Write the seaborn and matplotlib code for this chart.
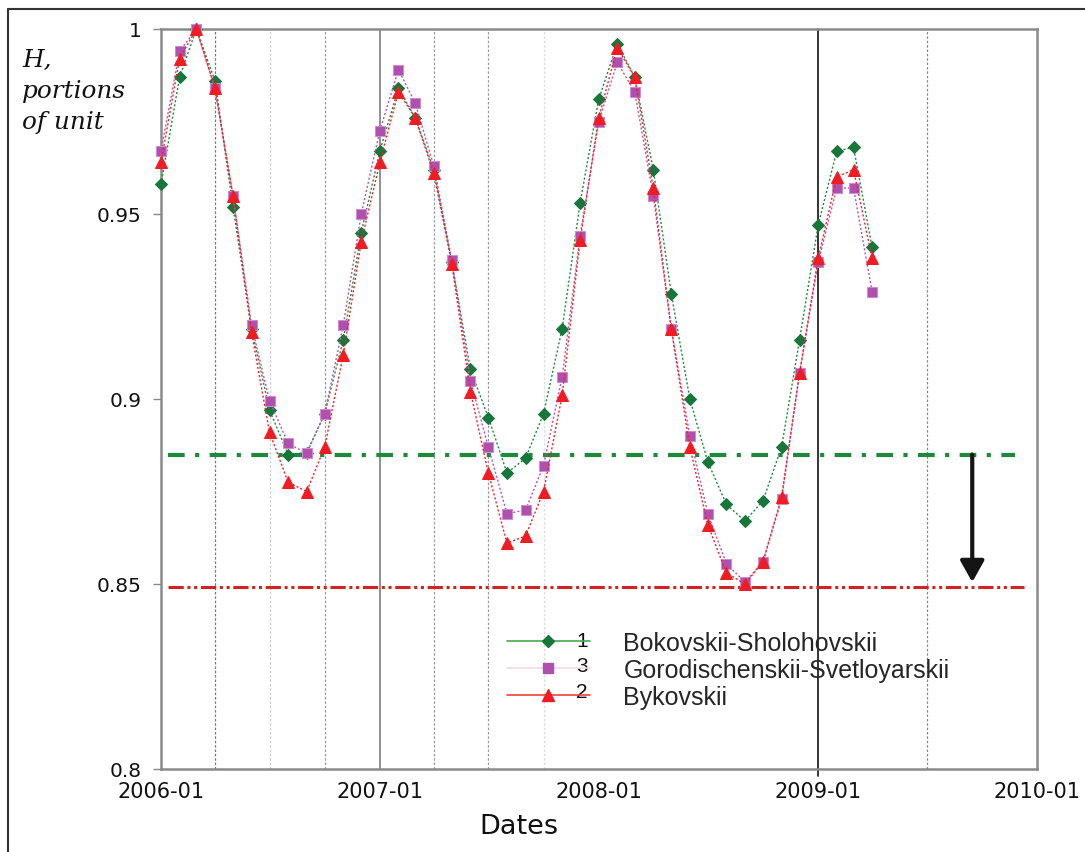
import numpy as np
import pandas as pd
import seaborn as sns
import matplotlib
matplotlib.use("Agg")
import matplotlib.pyplot as plt
import matplotlib.dates as mdates
from matplotlib.lines import Line2D

# monthly values, 2006-01 .. 2009-04
months = pd.date_range("2006-01-01", periods=40, freq="MS")

bokovskii = [0.958, 0.987, 1.000, 0.986, 0.952, 0.919, 0.897, 0.885, 0.8855, 0.896,
             0.916, 0.945, 0.967, 0.984, 0.976, 0.962, 0.937, 0.908, 0.895, 0.880,
             0.884, 0.896, 0.919, 0.953, 0.981, 0.996, 0.987, 0.962, 0.9285, 0.900,
             0.883, 0.8715, 0.867, 0.8725, 0.887, 0.916, 0.947, 0.967, 0.968, 0.941]
gorodischenskii = [0.967, 0.994, 1.000, 0.984, 0.955, 0.920, 0.8995, 0.888, 0.8853, 0.896,
                   0.920, 0.950, 0.9725, 0.989, 0.980, 0.963, 0.9375, 0.905, 0.887, 0.869,
                   0.870, 0.882, 0.906, 0.944, 0.975, 0.991, 0.983, 0.955, 0.919, 0.890,
                   0.869, 0.8555, 0.8505, 0.856, 0.873, 0.907, 0.937, 0.957, 0.957, 0.929]
bykovskii = [0.964, 0.992, 1.000, 0.984, 0.955, 0.918, 0.891, 0.8775, 0.875, 0.887,
             0.912, 0.9425, 0.964, 0.983, 0.976, 0.961, 0.9365, 0.902, 0.880, 0.861,
             0.863, 0.875, 0.901, 0.943, 0.976, 0.995, 0.987, 0.957, 0.919, 0.887,
             0.866, 0.853, 0.850, 0.856, 0.8735, 0.907, 0.938, 0.960, 0.962, 0.938]

names = ["Bokovskii-Sholohovskii", "Gorodischenskii-Svetloyarskii", "Bykovskii"]
numbers = ["1", "3", "2"]

level_green = 0.885
level_red = 0.8492
arrow_date = "2009-09-15"

df = pd.DataFrame({"date": months, names[0]: bokovskii,
                   names[1]: gorodischenskii, names[2]: bykovskii})

sns.set_style("white")
plt.rcParams["font.family"] = ["DejaVu Sans"]

fig = plt.figure(figsize=(10.85, 8.53), dpi=100)
ax = fig.add_axes([161 / 1085, 1 - 770 / 853, 876 / 1085, 740 / 853])

# background vertical lines
vlines = [("2006-04-01", "#777777", (0, (2, 1.5)), 0.9),
          ("2006-07-01", "#cccccc", (0, (2, 1.5)), 0.9),
          ("2006-10-01", "#999999", (0, (2, 1.5)), 0.9),
          ("2007-01-01", "#888888", "-", 1.3),
          ("2007-04-01", "#999999", (0, (2, 1.5)), 0.9),
          ("2007-07-01", "#999999", (0, (2, 1.5)), 0.9),
          ("2007-10-01", "#dddddd", (0, (2, 1.5)), 0.9),
          ("2009-07-01", "#888888", (0, (2, 1.5)), 0.9)]
for d, c, ls, lw in vlines:
    ax.axvline(pd.Timestamp(d), color=c, ls=ls, lw=lw, zorder=0)
ax.axvline(pd.Timestamp("2009-01-01"), ymin=-0.01, ymax=1, color="#111111",
           lw=1.2, zorder=0, clip_on=False)

# threshold lines
ax.hlines(level_green, pd.Timestamp("2006-01-12"), pd.Timestamp("2009-11-25"),
          color="#1c8a3a", lw=3, linestyles=[(0, (4, 2.5, 1, 2.5))], zorder=1)
ax.hlines(level_red, pd.Timestamp("2006-01-12"), pd.Timestamp("2009-12-10"),
          color="#d42222", lw=2.2, linestyles=[(0, (5, 1.2, 1, 1.2, 1, 1.2))], zorder=1)

# series
sns.lineplot(data=df, x="date", y=names[0], ax=ax, color="#1e8a3c", marker="D",
             markersize=6, markerfacecolor="#17763a", markeredgecolor="#17763a",
             linestyle=(0, (1.5, 1.5)), lw=1, zorder=3, clip_on=False)
sns.lineplot(data=df, x="date", y=names[1], ax=ax, color="#b654b4", marker="s",
             markersize=7.5, markerfacecolor="#b050ae", markeredgecolor="#d08ad0",
             linestyle=(0, (1.5, 1.5)), lw=1, zorder=4, clip_on=False)
sns.lineplot(data=df, x="date", y=names[2], ax=ax, color="#f02028", marker="^",
             markersize=8, markerfacecolor="#f01c24", markeredgecolor="#f01c24",
             linestyle=(0, (1.5, 1.5)), lw=1, zorder=5, clip_on=False)

ax.annotate("", xy=(pd.Timestamp(arrow_date), 0.8505),
            xytext=(pd.Timestamp(arrow_date), level_green),
            arrowprops=dict(arrowstyle="-|>,head_length=0.5,head_width=0.28",
                            mutation_scale=26, lw=3, color="#141414",
                            shrinkA=0, shrinkB=0), zorder=6)

ax.set_xlim(pd.Timestamp("2006-01-01"), pd.Timestamp("2010-01-01"))
ax.set_ylim(0.8, 1.0)
ax.xaxis.set_major_locator(mdates.YearLocator())
ax.xaxis.set_major_formatter(mdates.DateFormatter("%Y-%m"))
ax.set_yticks([0.8, 0.85, 0.9, 0.95, 1.0])
ax.set_yticklabels(["0.8", "0.85", "0.9", "0.95", "1"])
ax.tick_params(axis="x", length=0, pad=9, labelsize=15, colors="#111111")
ax.tick_params(axis="y", length=6, width=1, color="#888888", pad=8,
               labelsize=14.5, labelcolor="#111111", left=True)
for s in ax.spines.values():
    s.set_color("#8a8a8a")
    s.set_linewidth(1.8)
ax.set_ylabel("")
ax.set_xlabel("Dates", fontsize=19.5, color="#111111")
ax.xaxis.set_label_coords(0.409, -0.060)

# legend
handles = [Line2D([], [], color="#4aa84a", lw=1.2, marker="D", markersize=6,
                  markerfacecolor="#17763a", markeredgecolor="#17763a"),
           Line2D([], [], color="#f6d6ea", lw=1.2, marker="s", markersize=7.5,
                  markerfacecolor="#b050ae", markeredgecolor="#b050ae"),
           Line2D([], [], color="#f04040", lw=1.2, marker="^", markersize=8,
                  markerfacecolor="#f01c24", markeredgecolor="#f01c24")]
ax.legend(handles, names, loc="upper left", bbox_to_anchor=(0.395, 0.187),
          frameon=False, borderpad=0, borderaxespad=0, handlelength=3.3,
          handletextpad=1.35, labelspacing=0.12,
          prop={"family": "Liberation Sans", "size": 18})
for i, n in enumerate(numbers):
    ax.text(0.4806, 0.1743 - i * 0.0345, n, transform=ax.transAxes, fontsize=15,
            family="Liberation Sans", color="#111111", ha="center", va="center")

fig.text(22 / 1085, 1 - 49 / 853, "H,\nportions\nof unit", ha="left", va="top",
         family="DejaVu Serif", style="italic", fontsize=17.8, linespacing=1.45,
         color="#111111")

# outer frame (top and left edges)
fig.add_artist(Line2D([8 / 1085, 1], [1 - 10 / 853] * 2, transform=fig.transFigure,
                      color="#333333", lw=1.5))
fig.add_artist(Line2D([8 / 1085] * 2, [0, 1 - 10 / 853], transform=fig.transFigure,
                      color="#333333", lw=1.5))

fig.savefig("out.png", dpi=100)
